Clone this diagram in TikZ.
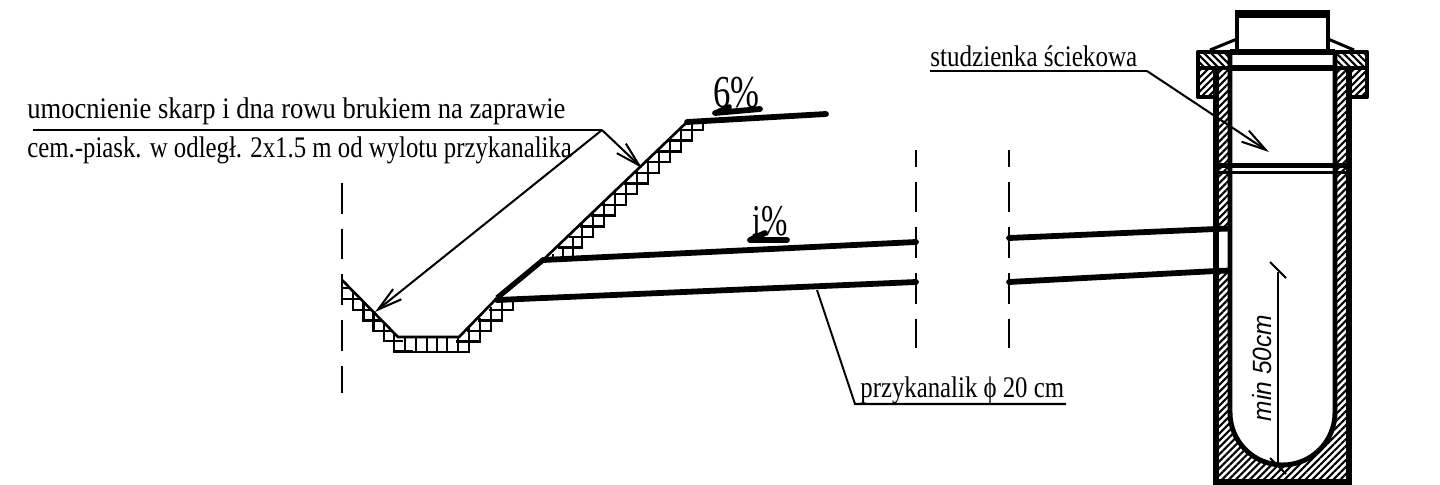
\documentclass[tikz,border=0pt]{standalone}
\usepackage{fontspec}
\setmainfont{Liberation Serif}
\newfontfamily\dimfont{Liberation Sans}
\usetikzlibrary{arrows.meta,patterns.meta}
\tikzset{
    thin line/.style={line width=1.15pt},
    grid line/.style={line width=1.45pt},
    soil line/.style={line width=1.5pt},
    fat line/.style={line width=3.3pt,line cap=round},
    axis line/.style={line width=1.4pt,dash pattern=on 17.5pt off 8.5pt},
    hatch r/.style={pattern={Lines[angle=45,distance=2.8pt,line width=1.2pt]}},
    hatch l/.style={pattern={Lines[angle=-45,distance=2.8pt,line width=1.2pt]}},
    label text/.style={inner sep=0pt,anchor=base west,font=\fontsize{17}{17}\selectfont}
}
\begin{document}
\begin{tikzpicture}[x=0.02cm,y=-0.02cm,>={Straight Barb[length=14pt,width=7.5pt]}]
\useasboundingbox (0,0) rectangle (1440,484);
% hatching of the well
\fill[hatch r] (1216,68)--(1230,68)--(1230,412.5) arc[start angle=180,end angle=0,radius=52.5]--(1335,68)--(1349,68)--(1349,482)--(1216,482)--cycle;
\fill[white] (1218,231) rectangle (1229,270);
\fill[hatch l] (1198,52) rectangle (1230,68);
\fill[hatch l] (1335,52) rectangle (1367,68);
\fill[hatch r] (1198,68) rectangle (1216,97);
\fill[hatch r] (1349,68) rectangle (1367,97);
% well
\draw[line width=2.6pt] (1237,52)--(1237,14);
\draw[line width=2.6pt] (1328,52)--(1328,14);
\draw[line width=4.4pt] (1234.7,14)--(1330.3,14);
\draw[line width=1.7pt] (1210,50)--(1237,39);
\draw[line width=1.7pt] (1328,39)--(1354,50);
\draw[line width=2.5pt,line join=round] (1216,97)--(1198,97)--(1198,52)--(1367,52)--(1367,97)--(1349,97);
\draw[line width=3.6pt] (1230,52)--(1335,52);
\draw[line width=2.5pt] (1198,68)--(1367,68);
\draw[line width=3.6pt] (1230,68)--(1335,68);
\draw[line width=3.3pt] (1216,68)--(1216,482)--(1349,482)--(1349,68);
\draw[line width=2.8pt] (1230,52)--(1230,412.5) arc[start angle=180,end angle=0,radius=52.5]--(1335,52);
\draw[line width=3.3pt] (1216,165.5)--(1349,165.5);
\draw[line width=1.6pt] (1216,172.5)--(1349,172.5);
% ditch
\draw[soil line] (342,280)--(398,337)--(459,337)--(497,298);
\draw[line width=3pt] (497,298)--(543,260);
\draw[soil line] (543,260)--(687,122);
\draw[fat line] (687,122)--(826,114);
\foreach \i in {0,...,11}
{
    \draw[grid line] (679-11*\i,130+10.7*\i)--(703-11*\i,130+10.7*\i)--(703-11*\i,130+10.7*\i-\ifnum\i=0 8\else\ifnum\i=1 19\else 24\fi\fi);
}
\foreach \x/\y in {573/237,563/247,553/254}
{
    \draw[grid line] (\x,\y)--(\x,258);
}
\foreach \i in {0,...,4}
{
    \draw[grid line] (489-11*\i,310+10.5*\i)--(513-11*\i,310+10.5*\i)--(513-11*\i,\ifnum\i=0 300\else 286+10.5*\i\fi);
}
\foreach \x in {394,405,416,427,437,447,458}
{
    \draw[grid line] (\x,337)--(\x,352);
}
\draw[grid line] (394,352)--(470,352);
\foreach \i in {0,...,4}
{
    \draw[grid line] (353+10.3*\i,291+10.4*\i)--(353+10.3*\i,310+10.4*\i)--(372+10.3*\i,310+10.4*\i);
}
\draw[grid line] (342,299)--(361,299);
\draw[grid line] (342,288)--(350,288);
% drain
\draw[fat line] (543,260)--(916,242);
\draw[fat line] (497,300)--(916,282);
\draw[fat line] (1009,238)--(1216,229);
\draw[line width=3.3pt] (1216,229)--(1230,228.5);
\draw[fat line] (1009,282)--(1216,271);
\draw[line width=3.3pt] (1216,271)--(1230,270.5);
% axes
\draw[axis line] (342,183)--(342,393);
\draw[axis line,dash phase=8pt] (916,150)--(916,348);
\draw[axis line,dash phase=8pt] (1009,150)--(1009,348);
% labels
\node[label text] (ditchtop) at (27,118) {\scalebox{.89}[1]{umocnienie skarp i dna rowu brukiem na zaprawie}};
\node[label text] (ditchlow) at (27,157) {\scalebox{.83}[1]{cem.-piask. w odległ. 2x1.5 m od wylotu przykanalika}};
\node[label text] (welllabel) at (930,66) {\scalebox{.84}[1]{studzienka ściekowa}};
\node[label text] (drainlabel) at (860,397) {\scalebox{.83}[1]{przykanalik ϕ 20 cm}};
\node[inner sep=0pt,anchor=base west,font=\fontsize{26}{26}\selectfont] (slopetop) at (713,107) {\scalebox{.76}[1]{6\%}};
\node[inner sep=0pt,anchor=base west,font=\fontsize{25}{25}\selectfont] (slopelow) at (752,235) {\scalebox{.72}[1]{i\%}};
\node[inner sep=0pt,rotate=90,font=\dimfont\itshape\fontsize{15}{15}\selectfont] (depth) at (1262,368) {\scalebox{.93}[1]{min 50cm}};
% leaders
\coordinate (ditchbend) at (602,130);
\coordinate (wellbend) at (1147,71);
\coordinate (drainbend) at (855,404);
\draw[thin line] (33,130)--(ditchbend);
\draw[thin line,->] (ditchbend)--(642,168);
\draw[thin line,->] (ditchbend)--(375,312);
\draw[thin line] (930,71)--(wellbend);
\draw[thin line,->] (wellbend)--(1269,152);
\draw[thin line] (817,290)--(drainbend)--(1066,404);
\draw[fat line] (715,113)--(760,109);
\draw[fat line] (718,112)--(729,107);
\draw[fat line] (750,240)--(787,240);
\draw[fat line] (752,239)--(765,233);
% depth mark
\draw[thin line] (1278,272)--(1278,466);
\draw[thin line] (1270,262)--(1286,278);
\draw[thin line] (1270,458)--(1286,474);
\end{tikzpicture}
\end{document}
